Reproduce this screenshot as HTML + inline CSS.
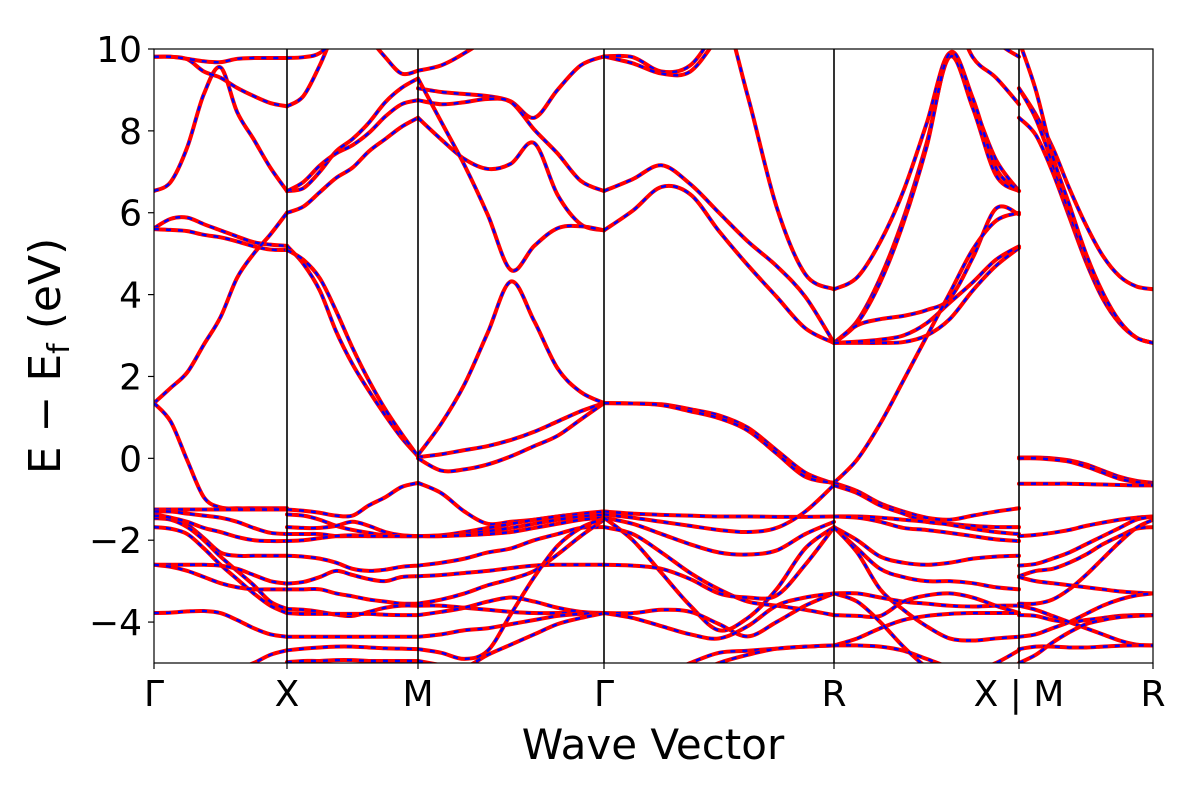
<!DOCTYPE html>
<html><head><meta charset="utf-8">
<style>
html,body{margin:0;padding:0;background:#fff;}
svg text{font-family:"DejaVu Sans","Liberation Sans",sans-serif;fill:#000;}
</style></head>
<body>
<svg id="chart" width="1200" height="800" viewBox="0 0 1200 800" xmlns="http://www.w3.org/2000/svg">
<defs><clipPath id="clip"><rect x="154" y="49" width="999" height="614"/></clipPath></defs>
<rect x="0" y="0" width="1200" height="800" fill="#fff"/>
<g id="bands" clip-path="url(#clip)"></g>
<g id="kLines"></g>
<rect x="154" y="49" width="999" height="614" fill="none" stroke="#000" stroke-width="1.2"/>
<g id="yAxis"></g>
<g id="xAxis"></g>
<text x="653" y="759" font-size="42" text-anchor="middle">Wave Vector</text>
<text transform="translate(60,356) rotate(-90)" font-size="44" text-anchor="middle">E − E<tspan font-size="30" dy="9">f</tspan><tspan dy="-9"> (eV)</tspan></text>
</svg>
<script>
const kTickPos = [0, 0.133, 0.264, 0.450, 0.680, 0.865, 0.999];
const kTickLabels = ["Γ", "X", "M", "Γ", "R", "X | M", "R"];
const yTickValues = [-4, -2, 0, 2, 4, 6, 8, 10];
const yDomain = [-5, 10];
const seg1 = [
 [6.53,6.75,7.6,8.9,9.55,8.46,7.79,7.1,6.53],
 [9.81,9.81,9.75,9.45,9.3,9.05,8.85,8.68,8.6],
 [9.81,9.81,9.76,9.7,9.68,9.76,9.78,9.78,9.78],
 [5.62,5.85,5.88,5.72,5.57,5.42,5.28,5.22,5.19],
 [5.6,5.58,5.55,5.46,5.4,5.3,5.18,5.1,5.09],
 [1.35,1.72,2.1,2.78,3.45,4.41,5.0,5.47,6.0],
 [1.35,0.9,-0.05,-0.95,-1.2,-1.22,-1.22,-1.22,-1.22],
 [-1.25,-1.25,-1.25,-1.25,-1.25,-1.25,-1.25,-1.25,-1.25],
 [-1.3,-1.3,-1.35,-1.4,-1.45,-1.55,-1.7,-1.82,-1.85],
 [-1.37,-1.45,-1.62,-1.95,-2.3,-2.38,-2.38,-2.38,-2.38],
 [-1.46,-1.5,-1.68,-2.0,-2.4,-2.75,-3.1,-3.5,-3.68],
 [-1.68,-1.72,-1.85,-2.2,-2.6,-2.95,-3.3,-3.6,-3.78],
 [-1.4,-1.45,-1.55,-1.7,-1.8,-1.92,-2.0,-2.02,-2.02],
 [-2.6,-2.6,-2.6,-2.6,-2.62,-2.7,-2.85,-3.0,-3.06],
 [-2.6,-2.65,-2.75,-2.9,-3.05,-3.15,-3.2,-3.2,-3.2],
 [-3.78,-3.77,-3.74,-3.73,-3.78,-3.95,-4.15,-4.3,-4.36],
 [-5.5,-5.5,-5.5,-5.5,-5.3,-5.15,-5.0,-4.8,-4.69]
];
const seg2 = [
 [6.53,6.6,7.0,7.5,7.8,8.2,8.7,9.05,9.28],
 [6.53,6.75,7.15,7.45,7.65,7.95,8.35,8.65,8.75],
 [6.0,6.15,6.5,6.85,7.1,7.5,7.8,8.1,8.32],
 [8.6,8.85,9.6,10.5,11,11,11,11,11],
 [11,11,11,11,11,10.3,9.8,9.4,9.47],
 [9.78,9.8,9.9,10.3,11,11,11,11,11],
 [5.19,4.75,4.1,3.1,2.3,1.65,1.05,0.5,0.05],
 [5.09,4.85,4.4,3.6,2.7,1.9,1.2,0.6,0.05],
 [-1.25,-1.28,-1.33,-1.4,-1.4,-1.15,-0.95,-0.7,-0.6],
 [-1.37,-1.4,-1.5,-1.65,-1.75,-1.82,-1.88,-1.9,-1.9],
 [-1.68,-1.7,-1.7,-1.65,-1.55,-1.65,-1.8,-1.88,-1.9],
 [-1.85,-1.85,-1.85,-1.9,-1.9,-1.9,-1.9,-1.9,-1.9],
 [-2.02,-2.0,-1.95,-1.9,-1.88,-1.9,-1.9,-1.9,-1.9],
 [-2.38,-2.4,-2.45,-2.55,-2.7,-2.75,-2.72,-2.65,-2.62],
 [-3.06,-3.02,-2.9,-2.75,-2.85,-2.95,-3.0,-2.9,-2.88],
 [-3.2,-3.2,-3.2,-3.3,-3.37,-3.45,-3.5,-3.55,-3.55],
 [-3.68,-3.7,-3.75,-3.82,-3.85,-3.75,-3.65,-3.6,-3.6],
 [-3.78,-3.8,-3.8,-3.8,-3.8,-3.8,-3.82,-3.83,-3.83],
 [-4.36,-4.36,-4.36,-4.36,-4.36,-4.36,-4.36,-4.36,-4.36],
 [-4.69,-4.65,-4.62,-4.6,-4.6,-4.62,-4.64,-4.65,-4.66],
 [-4.98,-4.95,-4.95,-4.93,-4.93,-4.95,-4.95,-4.95,-4.95]
];
const seg3 = [
 [9.47,9.6,9.9,10.3,11,11,11,11,11],
 [9.04,8.95,8.9,8.85,8.72,8.32,9.0,9.6,9.82],
 [8.75,8.65,8.7,8.78,8.7,8.03,7.45,6.78,6.53],
 [8.32,7.79,7.31,7.07,7.2,7.7,6.44,5.72,5.57],
 [9.28,8.22,7.16,5.95,4.6,5.19,5.62,5.67,5.57],
 [0.08,0.85,1.81,3.07,4.32,3.35,2.2,1.62,1.35],
 [0.03,0.1,0.2,0.3,0.45,0.65,0.9,1.15,1.35],
 [0.0,-0.3,-0.27,-0.15,0.05,0.3,0.55,0.95,1.35],
 [-0.6,-0.85,-1.3,-1.6,-1.55,-1.5,-1.42,-1.35,-1.3],
 [-1.9,-1.88,-1.8,-1.7,-1.6,-1.5,-1.42,-1.36,-1.3],
 [-1.9,-1.9,-1.85,-1.78,-1.7,-1.6,-1.5,-1.42,-1.38],
 [-1.9,-1.9,-1.88,-1.85,-1.8,-1.7,-1.6,-1.5,-1.45],
 [-2.62,-2.55,-2.45,-2.3,-2.2,-2.0,-1.85,-1.7,-1.68],
 [-2.88,-2.85,-2.8,-2.75,-2.68,-2.62,-2.6,-2.6,-2.6],
 [-3.55,-3.45,-3.3,-3.1,-2.95,-2.75,-2.35,-1.9,-1.5],
 [-3.6,-3.6,-3.65,-3.7,-3.75,-3.78,-3.78,-3.78,-3.78],
 [-3.83,-3.75,-3.65,-3.5,-3.4,-3.5,-3.65,-3.75,-3.78],
 [-4.36,-4.3,-4.2,-4.15,-4.05,-3.95,-3.85,-3.8,-3.78],
 [-4.66,-4.75,-4.9,-4.7,-3.8,-2.9,-2.14,-1.7,-1.47],
 [-4.95,-5.05,-5.1,-4.8,-4.55,-4.3,-4.05,-3.9,-3.78]
];
const seg4 = [
 [9.82,9.8,9.45,9.6,10.5,11,11,11,11],
 [9.82,9.65,9.4,9.45,10.3,11,11,11,11],
 [11,11,11,11,11.2,8.85,6.15,4.5,4.13],
 [6.53,6.82,7.16,6.7,6.0,5.3,4.7,3.95,2.82],
 [5.57,6.05,6.63,6.45,5.55,4.72,3.95,3.18,2.82],
 [1.35,1.34,1.32,1.2,1.05,0.75,0.2,-0.35,-0.62],
 [1.35,1.34,1.3,1.15,0.98,0.68,0.12,-0.45,-0.6],
 [-1.3,-1.35,-1.38,-1.4,-1.42,-1.42,-1.43,-1.43,-1.42],
 [-1.37,-1.45,-1.55,-1.65,-1.75,-1.8,-1.7,-1.3,-0.65],
 [-1.45,-1.6,-1.85,-2.1,-2.3,-2.35,-2.25,-1.85,-1.55],
 [-1.45,-2.0,-2.8,-3.6,-4.2,-3.9,-3.2,-2.2,-1.68],
 [-1.68,-1.85,-2.3,-2.8,-3.2,-3.5,-3.6,-3.7,-3.83],
 [-2.6,-2.62,-2.7,-2.95,-3.3,-3.4,-3.35,-2.6,-1.68],
 [-3.78,-3.78,-3.7,-3.75,-4.05,-4.35,-4.0,-3.6,-3.3],
 [-3.78,-3.9,-4.1,-4.3,-4.4,-4.1,-3.6,-3.4,-3.3],
 [-5.5,-5.5,-5.3,-5.0,-4.75,-4.7,-4.65,-4.6,-4.57],
 [-5.5,-5.5,-5.5,-5.3,-5.0,-4.8,-4.65,-4.6,-4.57]
];
const seg5 = [
 [4.13,4.42,5.29,6.53,8.17,9.9,8.7,7.3,6.53],
 [2.82,3.35,4.41,5.86,7.69,9.81,8.56,6.92,6.53],
 [2.82,3.3,4.3,5.75,7.6,9.9,8.8,7.1,6.53],
 [2.82,3.25,3.4,3.48,3.62,3.9,4.9,6.1,5.96],
 [2.82,2.82,2.82,2.84,3.0,3.4,4.1,4.7,5.14],
 [2.82,2.85,2.9,3.0,3.3,3.8,4.3,4.85,5.18],
 [-0.6,-0.03,0.85,1.9,2.97,4.03,5.1,5.8,6.0],
 [11,11,11,11,11,11,9.8,9.3,8.65],
 [11,11,11,11,11,11,11,10.2,9.81],
 [-0.6,-0.8,-1.1,-1.3,-1.45,-1.5,-1.4,-1.3,-1.22],
 [-0.66,-0.85,-1.15,-1.35,-1.55,-1.6,-1.65,-1.68,-1.68],
 [-1.42,-1.42,-1.45,-1.5,-1.55,-1.62,-1.72,-1.8,-1.85],
 [-1.42,-1.45,-1.55,-1.7,-1.75,-1.82,-1.9,-1.98,-2.02],
 [-1.68,-2.0,-2.4,-2.55,-2.6,-2.55,-2.45,-2.4,-2.38],
 [-1.68,-2.2,-2.7,-2.9,-3.0,-3.0,-3.05,-3.15,-3.2],
 [-1.68,-2.3,-3.2,-3.7,-4.1,-4.4,-4.45,-4.4,-4.36],
 [-3.3,-3.3,-3.4,-3.5,-3.55,-3.6,-3.62,-3.6,-3.6],
 [-3.83,-3.85,-3.85,-3.5,-3.35,-3.3,-3.4,-3.6,-3.78],
 [-4.57,-4.4,-4.15,-3.95,-3.85,-3.8,-3.78,-3.78,-3.78],
 [-4.57,-4.57,-4.6,-4.7,-4.9,-5.1,-5.2,-5.0,-4.69],
 [-3.3,-3.5,-4.0,-4.6,-5.1,-5.4,-5.5,-5.5,-5.5]
];
const seg6 = [
 [9.04,8.4,7.6,6.6,5.7,4.95,4.45,4.2,4.13],
 [8.32,7.9,7.0,5.9,4.8,3.9,3.3,2.95,2.82],
 [9.04,8.3,7.2,6.0,4.9,4.0,3.35,2.95,2.82],
 [10.2,9.0,7.4,6.2,5.0,4.05,3.35,2.95,2.82],
 [0.02,0.02,0.0,-0.05,-0.15,-0.3,-0.45,-0.55,-0.6],
 [0.0,0.0,-0.03,-0.08,-0.2,-0.35,-0.5,-0.58,-0.63],
 [-0.62,-0.62,-0.62,-0.62,-0.63,-0.64,-0.65,-0.66,-0.66],
 [-1.9,-1.87,-1.82,-1.75,-1.65,-1.57,-1.5,-1.45,-1.42],
 [-2.62,-2.58,-2.45,-2.3,-2.1,-1.9,-1.7,-1.5,-1.42],
 [-2.88,-2.75,-2.7,-2.55,-2.35,-2.1,-1.9,-1.72,-1.68],
 [-3.55,-3.55,-3.45,-3.2,-2.85,-2.45,-2.05,-1.7,-1.5],
 [-2.9,-3.0,-3.05,-3.1,-3.15,-3.2,-3.25,-3.28,-3.3],
 [-3.83,-3.85,-3.95,-4.0,-3.95,-3.9,-3.85,-3.83,-3.83],
 [-4.36,-4.3,-4.15,-4.0,-3.8,-3.6,-3.45,-3.35,-3.3],
 [-3.6,-3.7,-3.85,-4.0,-4.15,-4.3,-4.45,-4.55,-4.57],
 [-4.66,-4.6,-4.6,-4.62,-4.62,-4.6,-4.58,-4.57,-4.57],
 [-5.0,-4.8,-4.5,-4.25,-4.05,-3.95,-3.88,-3.85,-3.83]
];
const segments = [seg1, seg2, seg3, seg4, seg5, seg6];

const X0 = 154, X1 = 1153, Y0 = 663, Y1 = 49;
function xScale(k){ return X0 + (k - kTickPos[0]) / (kTickPos[kTickPos.length-1] - kTickPos[0]) * (X1 - X0); }
function yScale(e){ return Y0 - (e - yDomain[0]) / (yDomain[1] - yDomain[0]) * (Y0 - Y1); }
const NS = "http://www.w3.org/2000/svg";
function mk(tag, attrs, parent){ const el = document.createElementNS(NS, tag); for (const a in attrs) el.setAttribute(a, attrs[a]); parent.appendChild(el); return el; }
function smoothPath(pts){
  let d = "M" + pts[0][0].toFixed(2) + "," + pts[0][1].toFixed(2);
  for (let i = 0; i < pts.length - 1; i++){
    const p0 = pts[Math.max(0,i-1)], p1 = pts[i], p2 = pts[i+1], p3 = pts[Math.min(pts.length-1,i+2)];
    const c1x = p1[0] + (p2[0]-p0[0])/6, c1y = p1[1] + (p2[1]-p0[1])/6;
    const c2x = p2[0] - (p3[0]-p1[0])/6, c2y = p2[1] - (p3[1]-p1[1])/6;
    d += " C" + c1x.toFixed(2)+","+c1y.toFixed(2)+" "+c2x.toFixed(2)+","+c2y.toFixed(2)+" "+p2[0].toFixed(2)+","+p2[1].toFixed(2);
  }
  return d;
}
const bandsG = document.getElementById("bands");
segments.forEach((seg, s) => {
  const ka = kTickPos[s], kb = kTickPos[s+1];
  seg.forEach((band, b) => {
    const pts = band.map((e, i) => [xScale(ka + (kb - ka) * i / (band.length - 1)), yScale(e)]);
    const d = smoothPath(pts);
    const red = mk("path", {d: d, fill: "none", stroke: "#ff0000", "stroke-width": "4", "stroke-linecap": "round"}, bandsG);
    
    
    const blue = mk("path", {d: d, fill: "none", stroke: "#0000ff", "stroke-width": "2.4", "stroke-dasharray": "5 7"}, bandsG);
    
    
  });
});
const kG = document.getElementById("kLines");
const xG = document.getElementById("xAxis");
kTickPos.forEach((k, i) => {
  const x = xScale(k);
  if (i > 0 && i < kTickPos.length - 1){
    const ln = mk("line", {x1: x, x2: x, y1: Y1, y2: Y0, stroke: "#000", "stroke-width": "1.6"}, kG);
    
    
  }
  const tk = mk("line", {x1: x, x2: x, y1: Y0, y2: Y0 + 6, stroke: "#000", "stroke-width": "1.2"}, xG);
  
  
  const t = mk("text", {x: x, y: 706, "font-size": "36", "text-anchor": "middle"}, xG);
  t.textContent = kTickLabels[i];
  
  
});
const yG = document.getElementById("yAxis");
yTickValues.forEach(v => {
  const y = yScale(v);
  const tk = mk("line", {x1: X0 - 6, x2: X0, y1: y, y2: y, stroke: "#000", "stroke-width": "1.2"}, yG);
  
  
  const t = mk("text", {x: 142, y: y + 13, "font-size": "36", "text-anchor": "end"}, yG);
  t.textContent = v < 0 ? "−" + Math.abs(v) : String(v);
  
  
});
</script>
</body></html>
